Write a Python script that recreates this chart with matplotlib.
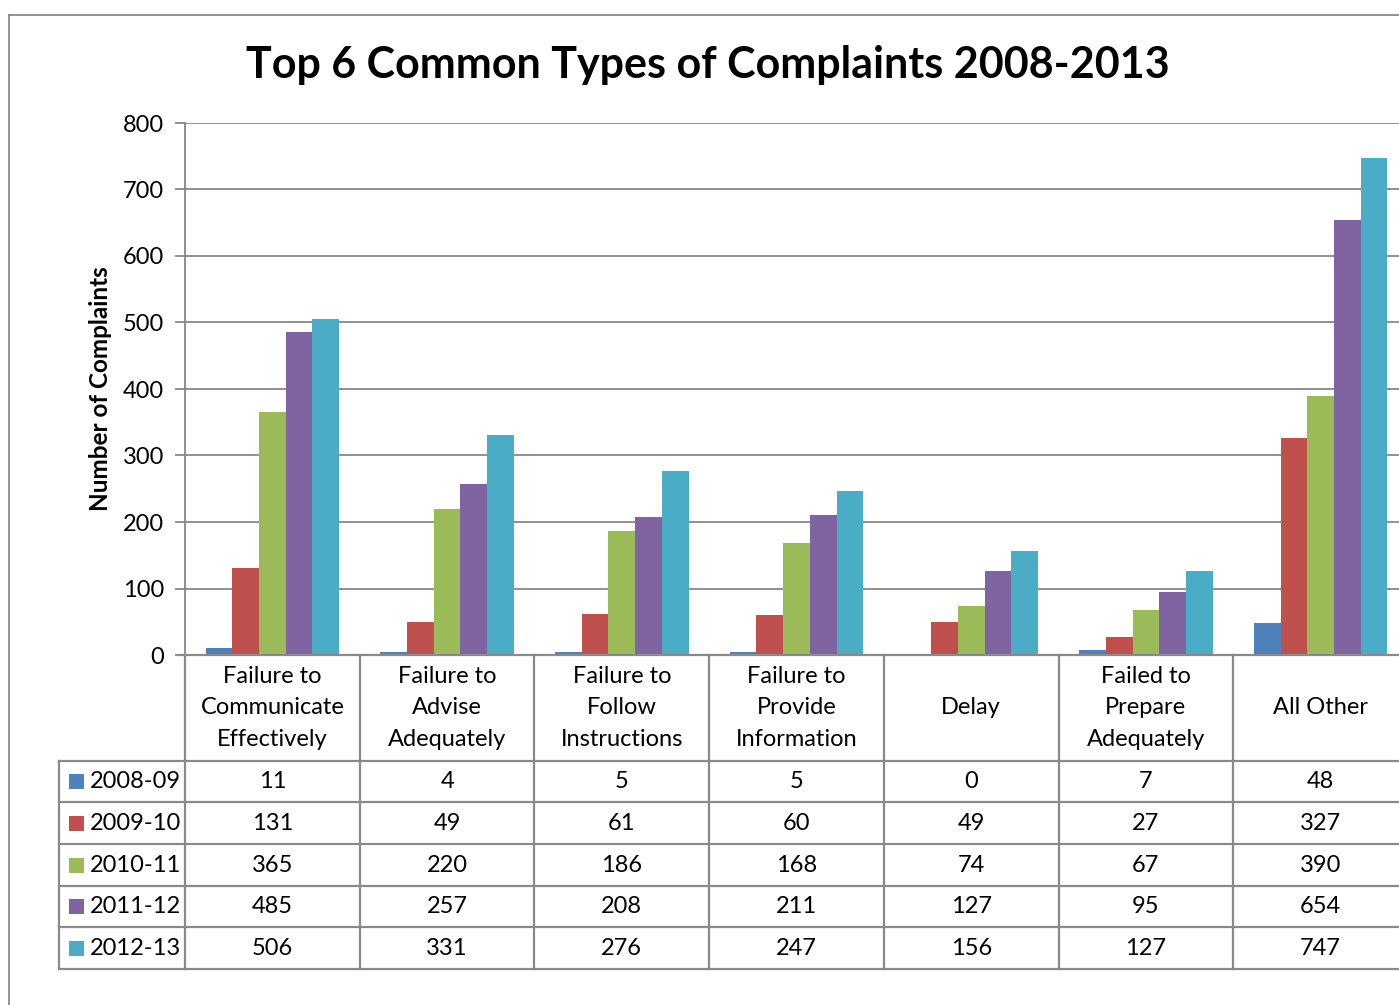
import numpy as np
import matplotlib.pyplot as plt
from matplotlib.lines import Line2D
from matplotlib.patches import Rectangle

plt.rcParams['font.family'] = ['Lato', 'DejaVu Sans']

categories = ['Failure to\nCommunicate\nEffectively', 'Failure to\nAdvise\nAdequately',
              'Failure to\nFollow\nInstructions', 'Failure to\nProvide\nInformation',
              'Delay', 'Failed to\nPrepare\nAdequately', 'All Other']
years = ['2008-09', '2009-10', '2010-11', '2011-12', '2012-13']
v0809 = [11, 4, 5, 5, 0, 7, 48]
v0910 = [131, 49, 61, 60, 49, 27, 327]
v1011 = [365, 220, 186, 168, 74, 67, 390]
v1112 = [485, 257, 208, 211, 127, 95, 654]
v1213 = [506, 331, 276, 247, 156, 127, 747]
series = [v0809, v0910, v1011, v1112, v1213]
colors = ['#4F81BD', '#C0504D', '#9BBB59', '#8064A2', '#4BACC6']

W, H = 1399, 1005
fig = plt.figure(figsize=(W / 100, H / 100), dpi=100)

def fx(px):
    return px / W

def fy(py):
    return 1 - py / H

grid_c = '#878787'
x_left, x_right = 185, 1408
y_top, y_zero = 123, 655
ax = fig.add_axes([fx(x_left), fy(y_zero), fx(x_right - x_left), (y_zero - y_top) / H])

n = len(categories)
x = np.arange(n)
bw = 0.153
for i, vals in enumerate(series):
    ax.bar(x + (i - 2) * bw, vals, bw, color=colors[i], zorder=3)

ax.set_xlim(-0.5, n - 0.5)
ax.set_ylim(0, 800)
ax.set_yticks(range(0, 801, 100))
ax.set_xticks([])
ax.grid(axis='y', color=grid_c, linewidth=1.3, zorder=0)
for s in ['top', 'right', 'bottom']:
    ax.spines[s].set_visible(False)
ax.spines['left'].set_color(grid_c)
ax.spines['left'].set_linewidth(1.3)
ax.tick_params(axis='y', length=7, color=grid_c, width=1.3, labelsize=17, pad=8)
ax.set_ylabel('Number of Complaints', fontsize=17.5, fontweight='bold', labelpad=8)

fig.text(fx(708), fy(65), 'Top 6 Common Types of Complaints 2008-2013',
         ha='center', va='center', fontsize=31, fontweight='bold')

# outer chart border (cropped on right/bottom)
fig.add_artist(Line2D([fx(9), fx(9)], [fy(15), 0], transform=fig.transFigure, color='#8a8a8a', lw=1.3))
fig.add_artist(Line2D([fx(9), 1], [fy(15), fy(15)], transform=fig.transFigure, color='#8a8a8a', lw=1.3))

# data table
col_w = (x_right - x_left) / n
col_edges = [x_left + k * col_w for k in range(n + 1)]
row_lines = [761, 802, 844, 886, 927, 969]
tc = '#8a8a8a'
for k, xe in enumerate(col_edges):
    fig.add_artist(Line2D([fx(xe), fx(xe)], [fy(y_zero), fy(969)], transform=fig.transFigure, color=tc, lw=1.6))
fig.add_artist(Line2D([fx(59), fx(59)], [fy(761), fy(969)], transform=fig.transFigure, color=tc, lw=1.6))
fig.add_artist(Line2D([fx(178), fx(x_right)], [fy(y_zero), fy(y_zero)], transform=fig.transFigure, color=tc, lw=1.6))
for ry in row_lines:
    fig.add_artist(Line2D([fx(59), fx(x_right)], [fy(ry), fy(ry)], transform=fig.transFigure, color=tc, lw=1.6))

for k, cat in enumerate(categories):
    cx = (col_edges[k] + col_edges[k + 1]) / 2
    fig.text(fx(cx), fy(708), cat, ha='center', va='center', fontsize=17, linespacing=1.62)

for r, (yr, vals) in enumerate(zip(years, series)):
    cy = (row_lines[r] + row_lines[r + 1]) / 2
    fig.add_artist(Rectangle((fx(69), fy(cy + 7.5)), fx(15), 15 / H, transform=fig.transFigure,
                             facecolor=colors[r], edgecolor='none'))
    fig.text(fx(90), fy(cy), yr, ha='left', va='center', fontsize=17)
    for k, v in enumerate(vals):
        cx = (col_edges[k] + col_edges[k + 1]) / 2
        fig.text(fx(cx), fy(cy), str(v), ha='center', va='center', fontsize=17)

fig.savefig('out.png', dpi=100)
